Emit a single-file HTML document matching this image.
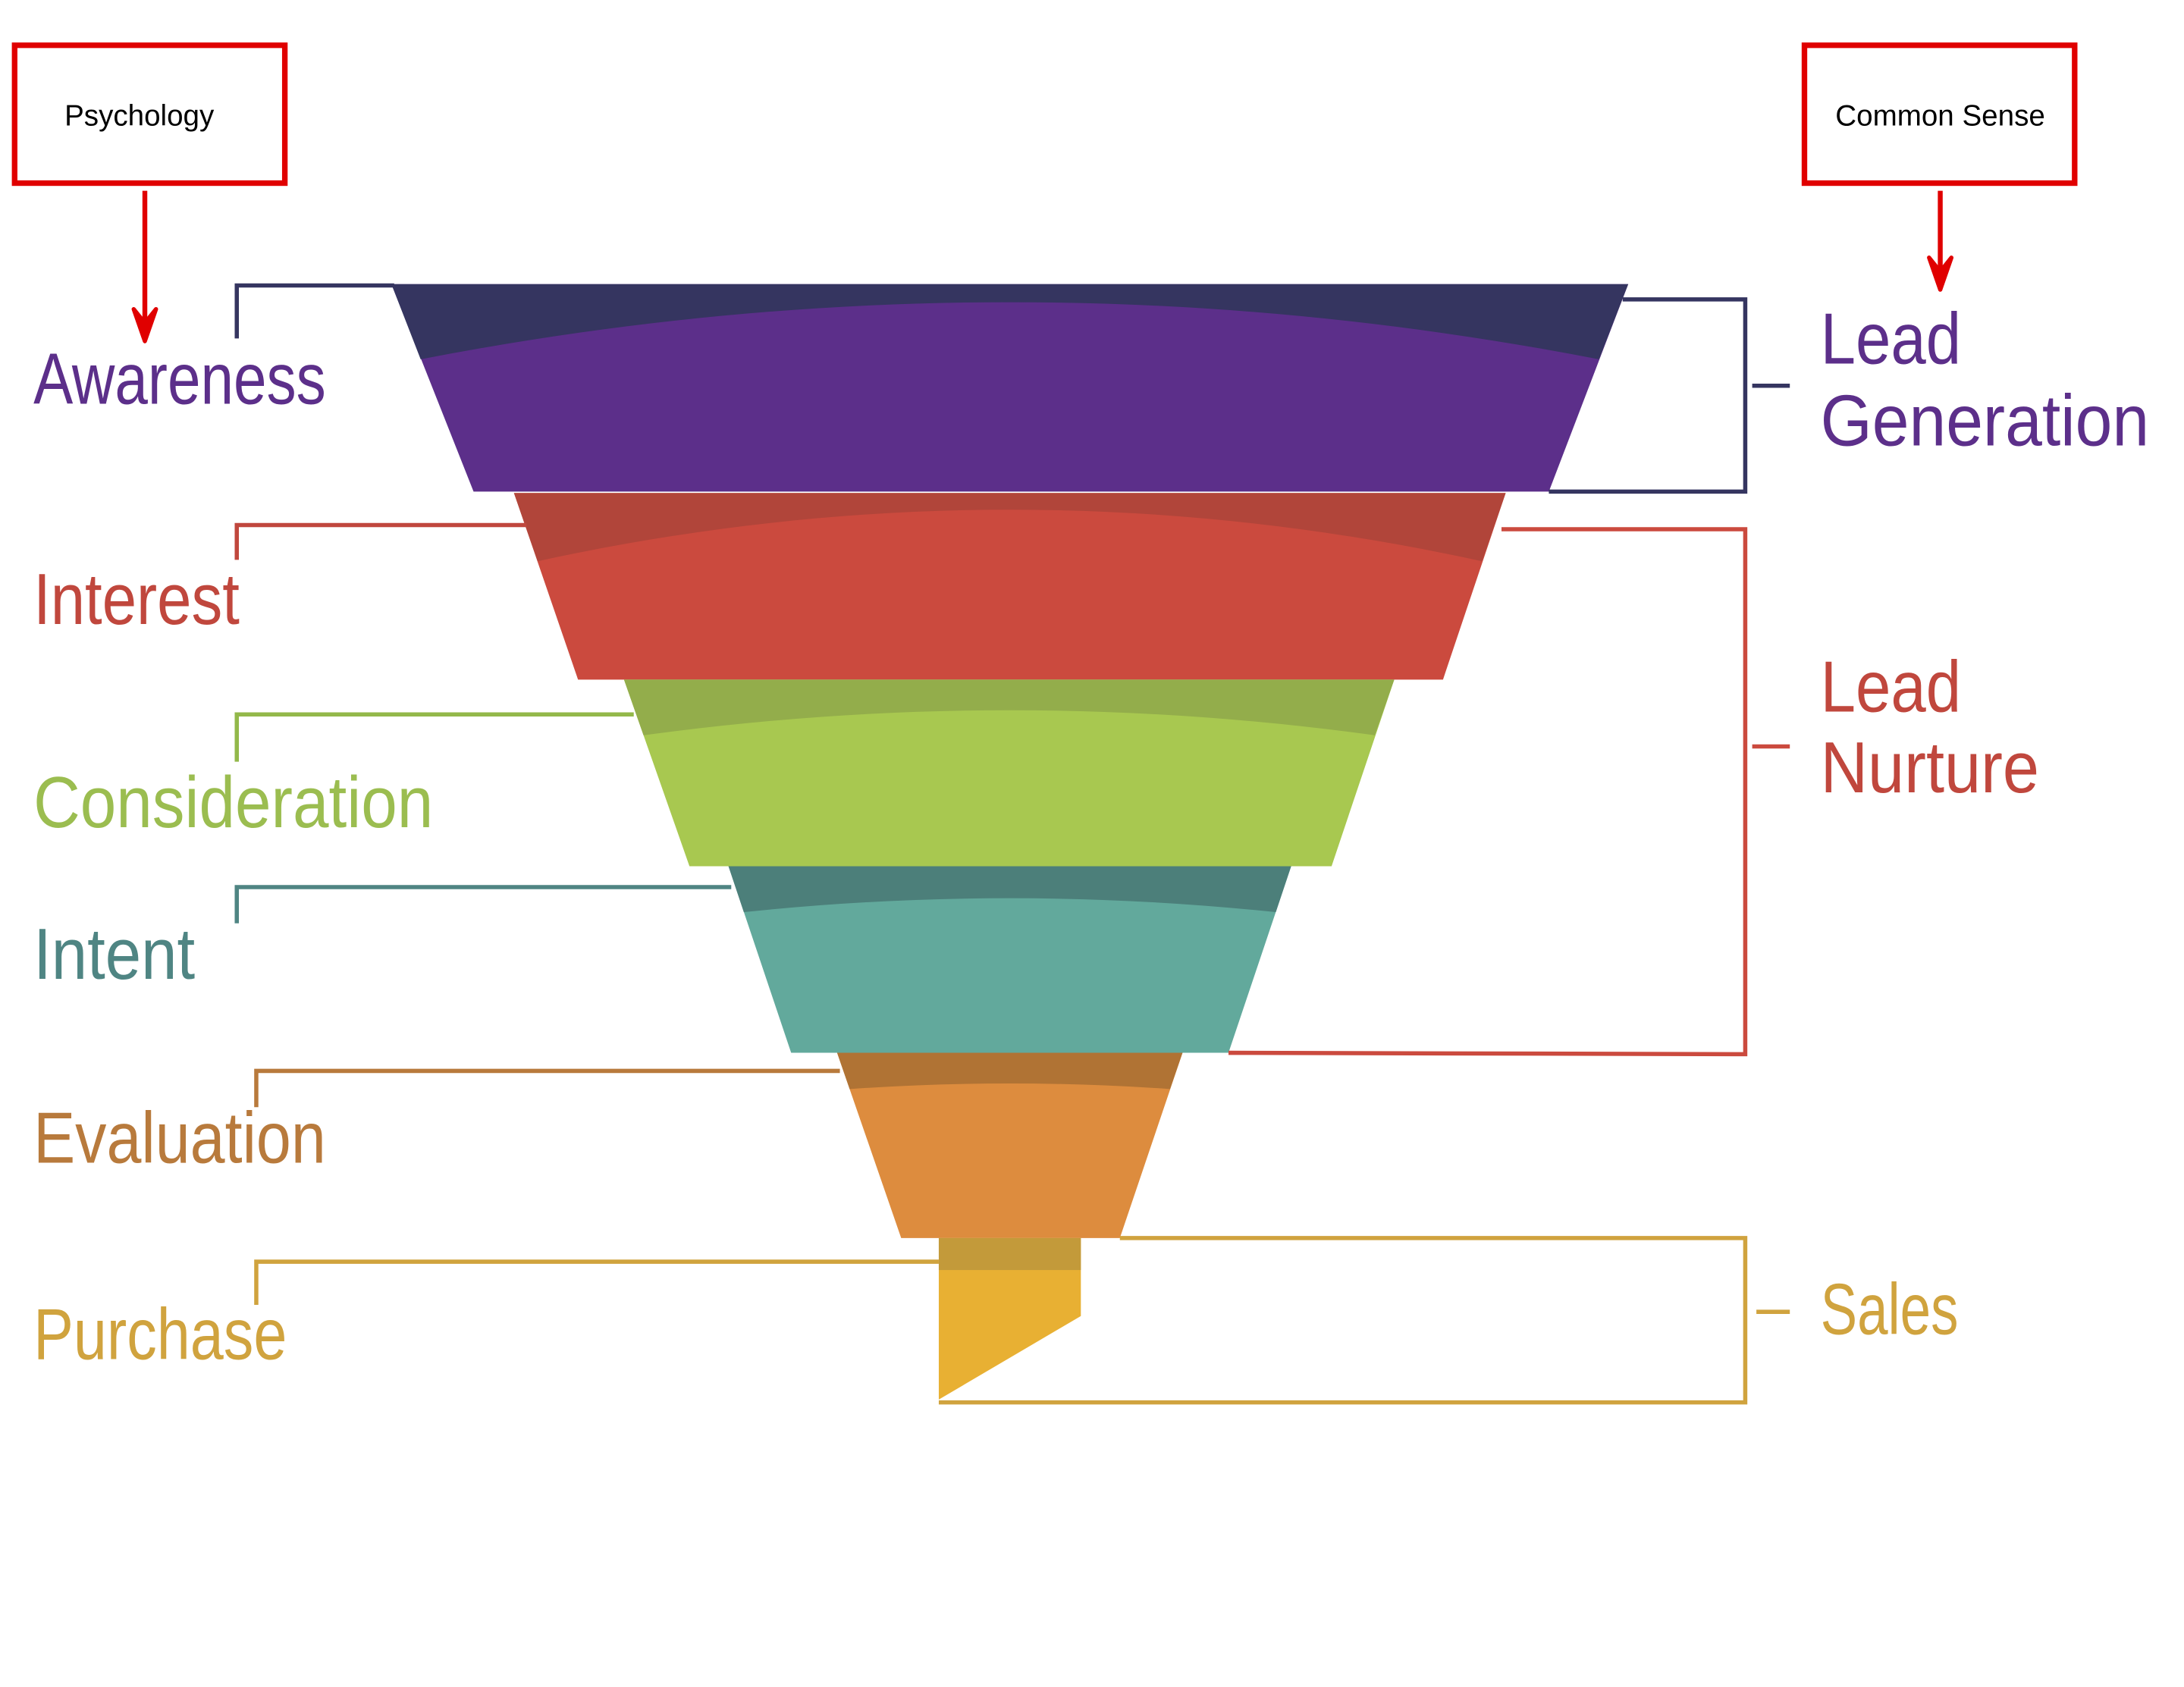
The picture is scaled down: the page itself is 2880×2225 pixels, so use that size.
<!DOCTYPE html>
<html><head><meta charset="utf-8"><style>html,body{margin:0;padding:0;background:#fff}svg{display:block}</style></head>
<body>
<svg width="2880" height="2225" viewBox="0 0 1568 1211.4" preserveAspectRatio="none" xmlns="http://www.w3.org/2000/svg">
<rect width="1568" height="1211.4" fill="#fff"/>
<!-- top boxes -->
<rect x="10.5" y="32.5" width="194" height="99" fill="none" stroke="#e00000" stroke-width="4"/>
<text x="100" y="90" font-family="Liberation Sans, sans-serif" font-size="21" text-anchor="middle" fill="#000">Psychology</text>
<line x1="104" y1="137" x2="104" y2="232" stroke="#e00000" stroke-width="3.5"/>
<path d="M96,222 L104,245 L112,222 L104,232 Z" fill="#e00000" stroke="#e00000" stroke-width="3" stroke-linejoin="round"/>
<rect x="1295.5" y="32.5" width="194" height="99" fill="none" stroke="#e00000" stroke-width="4"/>
<text x="1393" y="90" font-family="Liberation Sans, sans-serif" font-size="21" text-anchor="middle" fill="#000">Common Sense</text>
<line x1="1393" y1="137" x2="1393" y2="195" stroke="#e00000" stroke-width="3.5"/>
<path d="M1385,185 L1393,208 L1401,185 L1393,195 Z" fill="#e00000" stroke="#e00000" stroke-width="3" stroke-linejoin="round"/>

<!-- funnel -->
<polygon points="281,204 1169,204 1112,353 340,353" fill="#5c2f8a"/>
<path d="M281,204 L1169,204 L1148,258 Q725,176 302,258 Z" fill="#353560"/>
<polygon points="369,354 1081,354 1036,488 415,488" fill="#cb4a3e"/>
<path d="M369,354 L1081,354 L1064,403 Q725,329 386,403 Z" fill="#b1453a"/>
<polygon points="448,488 1001,488 956,622 495,622" fill="#a8c850"/>
<path d="M448,488 L1001,488 L987,528 Q725,492 462,528 Z" fill="#93ad4b"/>
<polygon points="523,622 927,622 882,756 568,756" fill="#62a99c"/>
<path d="M523,622 L927,622 L916,655 Q725,635 534,655 Z" fill="#4c7f7a"/>
<polygon points="601,756 849,756 804,889 647,889" fill="#dd8c3e"/>
<path d="M601,756 L849,756 L840,782 Q725,774 610,782 Z" fill="#b07334"/>
<polygon points="674,889 776,889 776,945 674,1005" fill="#e8b033"/>
<rect x="674" y="889" width="102" height="23" fill="#c39a3a"/>

<!-- left brackets -->
<g fill="none" stroke-width="3">
<polyline points="170,243 170,205 283,205" stroke="#353560"/>
<polyline points="170,402 170,377 378,377" stroke="#c0473d"/>
<polyline points="170,547 170,513 455,513" stroke="#93b84a"/>
<polyline points="170,663 170,637 525,637" stroke="#4f8583"/>
<polyline points="184,795 184,769 603,769" stroke="#b87a3c"/>
<polyline points="184,937 184,906 674,906" stroke="#d0a33e"/>
<!-- right brackets -->
<polyline points="1165,215 1253,215 1253,353 1112,353" stroke="#353560"/>
<line x1="1258" y1="277" x2="1285" y2="277" stroke="#353560"/>
<polyline points="1078,380 1253,380 1253,757 882,756" stroke="#cb4a3e"/>
<line x1="1258" y1="536" x2="1285" y2="536" stroke="#cb4a3e"/>
<polyline points="804,889 1253,889 1253,1007 674,1007" stroke="#d0a33e"/>
<line x1="1261" y1="942" x2="1285" y2="942" stroke="#d0a33e"/>
</g>

<!-- labels -->
<g font-family="Liberation Sans, sans-serif" font-size="52">
<text x="24" y="290" textLength="210" lengthAdjust="spacingAndGlyphs" fill="#5c2f8a">Awareness</text>
<text x="24" y="448" textLength="148" lengthAdjust="spacingAndGlyphs" fill="#c0473d">Interest</text>
<text x="24" y="594" textLength="287" lengthAdjust="spacingAndGlyphs" fill="#9bbd50">Consideration</text>
<text x="24" y="703" textLength="116" lengthAdjust="spacingAndGlyphs" fill="#4f8583">Intent</text>
<text x="24" y="835" textLength="210" lengthAdjust="spacingAndGlyphs" fill="#b87a3c">Evaluation</text>
<text x="24" y="976" textLength="182" lengthAdjust="spacingAndGlyphs" fill="#d0a33e">Purchase</text>
<text x="1307" y="261" textLength="101" lengthAdjust="spacingAndGlyphs" fill="#5c2f8a">Lead</text>
<text x="1307" y="320" textLength="236" lengthAdjust="spacingAndGlyphs" fill="#5c2f8a">Generation</text>
<text x="1307" y="511" textLength="101" lengthAdjust="spacingAndGlyphs" fill="#c0473d">Lead</text>
<text x="1307" y="569" textLength="157" lengthAdjust="spacingAndGlyphs" fill="#c0473d">Nurture</text>
<text x="1307" y="958" textLength="99" lengthAdjust="spacingAndGlyphs" fill="#d0a33e">Sales</text>
</g>
</svg>
</body></html>
